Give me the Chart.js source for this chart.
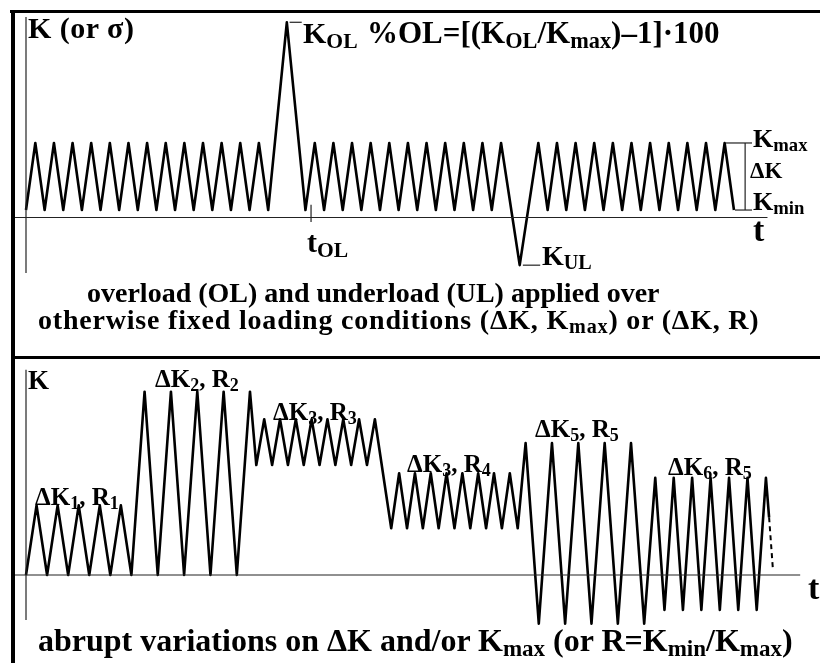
<!DOCTYPE html>
<html>
<head>
<meta charset="utf-8">
<script src="https://cdn.jsdelivr.net/npm/chart.js@4.4.1/dist/chart.umd.min.js"></script>
<style>
  html, body { margin: 0; padding: 0; background: #fff; }
  #page { position: relative; width: 820px; height: 663px; overflow: hidden; background: #fff;
          font-family: "Liberation Serif", "Times New Roman", serif; font-weight: bold; color: #000; }
  .box { position: absolute; }
  .lbl { position: absolute; white-space: nowrap; line-height: 1; }
  .lbl sub { font-size: 0.72em; vertical-align: -0.22em; line-height: 0; }
  .frame { position: absolute; background: #000; }
</style>
</head>
<body>
<div id="page">
  <div class="box" style="left:0;top:0;width:820px;height:356px"><canvas id="topChart"></canvas></div>
  <div class="box" style="left:0;top:360px;width:820px;height:303px"><canvas id="bottomChart"></canvas></div>

  <div class="frame" style="left:10px;top:10px;width:810px;height:3px"></div>
  <div class="frame" style="left:11px;top:10px;width:4px;height:653px"></div>
  <div class="frame" style="left:15px;top:356px;width:805px;height:3px"></div>

  <!-- top panel text -->
  <div class="lbl" style="left:28px;top:13px;font-size:30px;letter-spacing:0.5px">K (or σ)</div>
  <div class="lbl" style="left:303px;top:18px;font-size:30px">K<sub>OL</sub></div>
  <div class="lbl" style="left:367px;top:17px;font-size:31px">%OL=[(K<sub>OL</sub>/K<sub>max</sub>)–1]·100</div>
  <div class="lbl" style="left:307px;top:227px;font-size:30px">t<sub>OL</sub></div>
  <div class="lbl" style="left:542px;top:242px;font-size:28px">K<sub>UL</sub></div>
  <div class="lbl" style="left:753px;top:126px;font-size:26px">K<sub>max</sub></div>
  <div class="lbl" style="left:750px;top:159px;font-size:23px">ΔK</div>
  <div class="lbl" style="left:753px;top:189px;font-size:26px">K<sub>min</sub></div>
  <div class="lbl" style="left:753px;top:213px;font-size:34px">t</div>
  <div class="lbl" style="left:87px;top:279px;font-size:28px">overload (OL) and underload (UL) applied over</div>
  <div class="lbl" style="left:38px;top:306px;font-size:28px;letter-spacing:0.8px">otherwise fixed loading conditions (ΔK, K<sub>max</sub>) or (ΔK, R)</div>

  <!-- bottom panel text -->
  <div class="lbl" style="left:28px;top:367px;font-size:27px">K</div>
  <div class="lbl" style="left:35px;top:484px;font-size:25px">ΔK<sub>1</sub>, R<sub>1</sub></div>
  <div class="lbl" style="left:155px;top:366px;font-size:25px">ΔK<sub>2</sub>, R<sub>2</sub></div>
  <div class="lbl" style="left:273px;top:399px;font-size:25px">ΔK<sub>3</sub>, R<sub>3</sub></div>
  <div class="lbl" style="left:407px;top:451px;font-size:25px">ΔK<sub>3</sub>, R<sub>4</sub></div>
  <div class="lbl" style="left:535px;top:416px;font-size:25px">ΔK<sub>5</sub>, R<sub>5</sub></div>
  <div class="lbl" style="left:668px;top:454px;font-size:25px">ΔK<sub>6</sub>, R<sub>5</sub></div>
  <div class="lbl" style="left:808px;top:571px;font-size:34px">t</div>
  <div class="lbl" style="left:38px;top:624px;font-size:32px">abrupt variations on ΔK and/or K<sub>max</sub> (or R=K<sub>min</sub>/K<sub>max</sub>)</div>
</div>

<script>
  'use strict';

  // top panel: constant amplitude loading with one overload and one underload
  // time in load cycles, K in arbitrary units
  var topTime = [0, 0.5, 1, 1.5, 2, 2.5, 3, 3.5, 4, 4.5, 5, 5.5, 6, 6.5, 7, 7.5, 8, 8.5, 9, 9.5, 10, 10.5, 11, 11.5, 12, 12.5, 13,
                 14, 15,
                 15.5, 16, 16.5, 17, 17.5, 18, 18.5, 19, 19.5, 20, 20.5, 21, 21.5, 22, 22.5, 23, 23.5, 24, 24.5, 25, 25.5,
                 26.5,
                 27.5, 28, 28.5, 29, 29.5, 30, 30.5, 31, 31.5, 32, 32.5, 33, 33.5, 34, 34.5, 35, 35.5, 36, 36.5, 37, 37.5, 38];
  var topK = [1, 10, 1, 10, 1, 10, 1, 10, 1, 10, 1, 10, 1, 10, 1, 10, 1, 10, 1, 10, 1, 10, 1, 10, 1, 10, 1,
              26.2, 1,
              10, 1, 10, 1, 10, 1, 10, 1, 10, 1, 10, 1, 10, 1, 10, 1, 10, 1, 10, 1, 10,
              -6.4,
              10, 1, 10, 1, 10, 1, 10, 1, 10, 1, 10, 1, 10, 1, 10, 1, 10, 1, 10, 1, 10, 1];
  var Kmax = 10, Kmin = 1, K_OL = 26.2, K_UL = -6.4, t_OL = 15.3;
  var topTimeRange = [-0.59, 39.8];
  var topKRange = [-7.45, 26.9];

  // bottom panel: blocks of different (dK, R)
  var botTime = [0, 2, 4, 6, 8, 10, 12, 14, 16, 18, 20,
                 22.5, 25, 27.5, 30, 32.5, 35, 37.5, 40, 42.5,
                 43.7, 45.2, 46.7, 48.2, 49.7, 51.2, 52.7, 54.2, 55.7, 57.2, 58.7, 60.2, 61.7, 63.2, 64.7, 66.2,
                 69.3, 70.8, 72.3, 73.8, 75.3, 76.8, 78.3, 79.8, 81.3, 82.8, 84.3, 85.8, 87.3, 88.8, 90.3, 91.8, 93.3,
                 94.8, 97.3, 99.8, 102.3, 104.8, 107.3, 109.8, 112.3, 114.8, 117.3,
                 119.4, 121.15, 122.9, 124.65, 126.4, 128.15, 129.9, 131.65, 133.4, 135.15, 136.9, 138.65, 140.4,
                 141.0];
  var botK = [0, 3.8, 0, 3.8, 0, 3.8, 0, 3.8, 0, 3.8, 0,
              10, 0, 10, 0, 10, 0, 10, 0, 10,
              6, 8.5, 6, 8.5, 6, 8.5, 6, 8.5, 6, 8.5, 6, 8.5, 6, 8.5, 6, 8.5,
              2.55, 5.55, 2.55, 5.55, 2.55, 5.55, 2.55, 5.55, 2.55, 5.55, 2.55, 5.55, 2.55, 5.55, 2.55, 5.55, 2.55,
              7.2, -2.65, 7.2, -2.65, 7.2, -2.65, 7.2, -2.65, 7.2, -2.65,
              5.3, -1.9, 5.3, -1.9, 5.3, -1.9, 5.3, -1.9, 5.3, -1.9, 5.3, -1.9, 5.3,
              3.15];
  var botTailTime = [141.0, 141.7];
  var botTailK = [3.15, 0.4];
  var botTimeRange = [-2.09, 146.9];
  var botKRange = [-2.45, 11.2];

  function pts(xs, ys) {
    return xs.map(function(x, i) { return { x: x, y: ys[i] }; });
  }

  function thin(data) {
    return { data: data, borderColor: '#222', borderWidth: 1.2, pointRadius: 0, tension: 0 };
  }

  function baseOptions(xMin, xMax, yMin, yMax) {
    return {
      responsive: true,
      maintainAspectRatio: false,
      animation: false,
      events: [],
      layout: { padding: 0 },
      plugins: { legend: { display: false }, tooltip: { enabled: false } },
      scales: {
        x: { type: 'linear', min: xMin, max: xMax, display: false },
        y: { type: 'linear', min: yMin, max: yMax, display: false }
      }
    };
  }

  var wave = { borderColor: '#000', borderWidth: 2.6, pointRadius: 0, tension: 0, borderJoinStyle: 'round' };

  new Chart(document.getElementById('topChart').getContext('2d'), {
    type: 'line',
    data: {
      datasets: [
        thin(pts(topTimeRange, [0, 0])),
        thin(pts([0, 0], topKRange)),
        thin(pts([t_OL, t_OL], [-0.6, 1.7])),
        thin(pts([14.15, 14.8], [K_OL, K_OL])),
        thin(pts([26.67, 27.6], [K_UL, K_UL])),
        thin(pts([37.57, 38.97], [Kmax, Kmax])),
        thin(pts([38.05, 38.97], [Kmin, Kmin])),
        thin(pts([38.6, 38.6], [Kmin, Kmax])),
        Object.assign({ data: pts(topTime, topK) }, wave)
      ]
    },
    options: baseOptions(-1.3956, 42.619, -18.59, 29.19)
  });

  new Chart(document.getElementById('bottomChart').getContext('2d'), {
    type: 'line',
    data: {
      datasets: [
        thin(pts(botTimeRange, [0, 0])),
        thin(pts([0, 0], botKRange)),
        Object.assign({ data: pts(botTime, botK) }, wave),
        Object.assign({ data: pts(botTailTime, botTailK), borderDash: [5, 4] }, wave, { borderWidth: 2 })
      ]
    },
    options: baseOptions(-4.934, 150.66, -4.80, 11.73)
  });
</script>
</body>
</html>
